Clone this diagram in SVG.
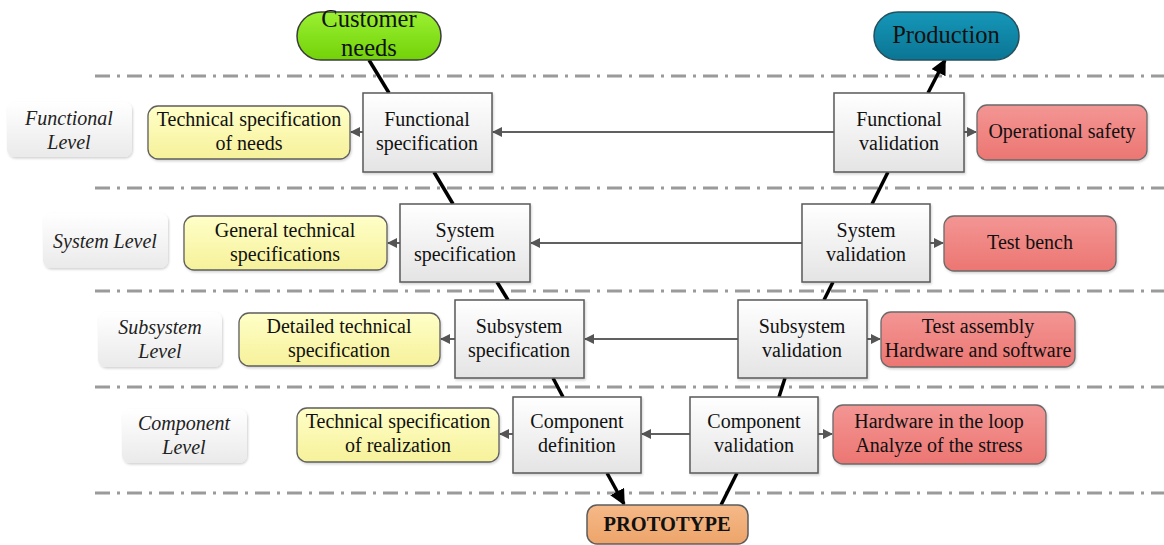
<svg xmlns="http://www.w3.org/2000/svg" width="1164" height="545" viewBox="0 0 1164 545">
  <defs>
    <linearGradient id="gBox" x1="0" y1="0" x2="0" y2="1">
      <stop offset="0" stop-color="#ffffff"/>
      <stop offset="1" stop-color="#e4e4e4"/>
    </linearGradient>
    <linearGradient id="gLevel" x1="0" y1="0" x2="0" y2="1">
      <stop offset="0" stop-color="#ffffff"/>
      <stop offset="1" stop-color="#eaeaea"/>
    </linearGradient>
    <linearGradient id="gYellow" x1="0" y1="0" x2="0" y2="1">
      <stop offset="0" stop-color="#ffffc8"/>
      <stop offset="1" stop-color="#f6f19a"/>
    </linearGradient>
    <linearGradient id="gRed" x1="0" y1="0" x2="0" y2="1">
      <stop offset="0" stop-color="#f39694"/>
      <stop offset="1" stop-color="#ec7672"/>
    </linearGradient>
    <linearGradient id="gGreen" x1="0" y1="0" x2="0" y2="1">
      <stop offset="0" stop-color="#9af032"/>
      <stop offset="1" stop-color="#72d208"/>
    </linearGradient>
    <linearGradient id="gTeal" x1="0" y1="0" x2="0" y2="1">
      <stop offset="0" stop-color="#1597b8"/>
      <stop offset="1" stop-color="#0b7594"/>
    </linearGradient>
    <linearGradient id="gOrange" x1="0" y1="0" x2="0" y2="1">
      <stop offset="0" stop-color="#f5b988"/>
      <stop offset="1" stop-color="#eda46a"/>
    </linearGradient>
    <filter id="soft" x="-10%" y="-10%" width="130%" height="130%">
      <feDropShadow dx="1" dy="1.5" stdDeviation="1.2" flood-color="#000" flood-opacity="0.18"/>
    </filter>
    <marker id="arrGray" viewBox="0 0 10 10" refX="9" refY="5" markerWidth="5" markerHeight="5" orient="auto" markerUnits="strokeWidth">
      <path d="M0,0 L10,5 L0,10 z" fill="#555"/>
    </marker>
    <marker id="arrBlack" viewBox="0 0 10 10" refX="9" refY="5" markerWidth="4.5" markerHeight="4.5" orient="auto" markerUnits="strokeWidth">
      <path d="M0,0 L10,5 L0,10 z" fill="#000"/>
    </marker>
  </defs>
  <style>
    text { font-family: "Liberation Serif", "Times New Roman", serif; fill: #111; text-anchor: middle; }
    .t { font-size: 20px; }
    .big { font-size: 24.5px; }
    .bold { font-size: 20.5px; font-weight: bold; }
    .lvl { font-size: 20px; font-style: italic; fill: #222; }
    .sep { stroke: #9a9a9a; stroke-width: 3; stroke-dasharray: 15 7 3 7; fill: none; }
    .box { fill: url(#gBox); stroke: #5a5a5a; stroke-width: 1.5; filter: url(#soft); }
    .lvlbox { fill: url(#gLevel); stroke: none; filter: url(#soft); }
    .yel { fill: url(#gYellow); stroke: #5e5e5e; stroke-width: 1.3; filter: url(#soft); }
    .red { fill: url(#gRed); stroke: #6a6a6a; stroke-width: 1.3; filter: url(#soft); }
    .h { stroke: #606060; stroke-width: 2; fill: none; marker-end: url(#arrGray); }
    .v { stroke: #000; stroke-width: 3.5; fill: none; }
  </style>

  <rect width="1164" height="545" fill="#ffffff"/>

  <!-- level separators -->
  <g id="separators">
    <line class="sep" x1="95" y1="76" x2="1164" y2="76"/>
    <line class="sep" x1="95" y1="188" x2="1164" y2="188"/>
    <line class="sep" x1="95" y1="291" x2="1164" y2="291"/>
    <line class="sep" x1="95" y1="387" x2="1164" y2="387"/>
    <line class="sep" x1="95" y1="493" x2="1164" y2="493"/>
  </g>

  <!-- connectors: V-cycle descent/ascent and horizontal links -->
  <g id="connectors">
    <line class="v" x1="369" y1="60" x2="389" y2="93"/>
    <line class="v" x1="434" y1="172" x2="453" y2="204"/>
    <line class="v" x1="497" y1="282" x2="508" y2="300"/>
    <line class="v" x1="553" y1="378" x2="563" y2="397"/>
    <line class="v" x1="607" y1="473" x2="624" y2="504" marker-end="url(#arrBlack)"/>

    <line class="v" x1="721" y1="505" x2="737" y2="473"/>
    <line class="v" x1="779" y1="397" x2="785" y2="378"/>
    <line class="v" x1="824" y1="300" x2="833" y2="282"/>
    <line class="v" x1="872" y1="204" x2="888" y2="172"/>
    <line class="v" x1="928" y1="93" x2="945" y2="60" marker-end="url(#arrBlack)"/>

    <line class="h" x1="834" y1="132" x2="493" y2="132"/>
    <line class="h" x1="363" y1="132" x2="351" y2="132"/>
    <line class="h" x1="964" y1="132" x2="976" y2="132"/>

    <line class="h" x1="802" y1="243" x2="531" y2="243"/>
    <line class="h" x1="400" y1="243" x2="388" y2="243"/>
    <line class="h" x1="930" y1="243" x2="943" y2="243"/>

    <line class="h" x1="738" y1="339" x2="585" y2="339"/>
    <line class="h" x1="455" y1="339" x2="441" y2="339"/>
    <line class="h" x1="867" y1="339" x2="880" y2="339"/>

    <line class="h" x1="690" y1="434" x2="642" y2="434"/>
    <line class="h" x1="513" y1="434" x2="500" y2="434"/>
    <line class="h" x1="818" y1="434" x2="832" y2="434"/>
  </g>

  <!-- terminals -->
  <g id="customer-needs">
    <rect x="297" y="12" width="144" height="48" rx="24" fill="url(#gGreen)" stroke="#3c3c3c" stroke-width="1.5"/>
    <text class="big" x="369" y="27">Customer</text>
    <text class="big" x="369" y="56">needs</text>
  </g>
  <g id="production">
    <rect x="874" y="12" width="145" height="48" rx="24" fill="url(#gTeal)" stroke="#25505e" stroke-width="1.5"/>
    <text class="big" x="946" y="43">Production</text>
  </g>
  <g id="prototype">
    <rect x="587" y="505" width="161" height="39" rx="10" fill="url(#gOrange)" stroke="#5c5c5c" stroke-width="1.5"/>
    <text class="bold" x="667" y="531">PROTOTYPE</text>
  </g>

  <!-- level labels -->
  <g id="level-functional">
    <rect class="lvlbox" x="7" y="102" width="125" height="55" rx="8"/>
    <text class="lvl" x="69" y="125">Functional</text>
    <text class="lvl" x="69" y="149">Level</text>
  </g>
  <g id="level-system">
    <rect class="lvlbox" x="43" y="213" width="125" height="55" rx="8"/>
    <text class="lvl" x="105" y="248">System Level</text>
  </g>
  <g id="level-subsystem">
    <rect class="lvlbox" x="98" y="312" width="124" height="55" rx="8"/>
    <text class="lvl" x="160" y="334">Subsystem</text>
    <text class="lvl" x="160" y="358">Level</text>
  </g>
  <g id="level-component">
    <rect class="lvlbox" x="122" y="409" width="125" height="54" rx="8"/>
    <text class="lvl" x="184" y="430">Component</text>
    <text class="lvl" x="184" y="454">Level</text>
  </g>

  <!-- functional level -->
  <g id="tech-spec-needs">
    <rect class="yel" x="148" y="106" width="202" height="53" rx="10"/>
    <text class="t" x="249" y="126">Technical specification</text>
    <text class="t" x="249" y="150">of needs</text>
  </g>
  <g id="functional-specification">
    <rect class="box" x="363" y="93" width="129" height="79"/>
    <text class="t" x="427" y="126">Functional</text>
    <text class="t" x="427" y="150">specification</text>
  </g>
  <g id="functional-validation">
    <rect class="box" x="834" y="93" width="130" height="79"/>
    <text class="t" x="899" y="126">Functional</text>
    <text class="t" x="899" y="150">validation</text>
  </g>
  <g id="operational-safety">
    <rect class="red" x="977" y="105" width="170" height="55" rx="10"/>
    <text class="t" x="1062" y="138">Operational safety</text>
  </g>

  <!-- system level -->
  <g id="general-tech-spec">
    <rect class="yel" x="184" y="216" width="203" height="54" rx="10"/>
    <text class="t" x="285" y="237">General technical</text>
    <text class="t" x="285" y="261">specifications</text>
  </g>
  <g id="system-specification">
    <rect class="box" x="400" y="204" width="130" height="78"/>
    <text class="t" x="465" y="237">System</text>
    <text class="t" x="465" y="261">specification</text>
  </g>
  <g id="system-validation">
    <rect class="box" x="802" y="204" width="128" height="78"/>
    <text class="t" x="866" y="237">System</text>
    <text class="t" x="866" y="261">validation</text>
  </g>
  <g id="test-bench">
    <rect class="red" x="944" y="216" width="172" height="55" rx="10"/>
    <text class="t" x="1030" y="249">Test bench</text>
  </g>

  <!-- subsystem level -->
  <g id="detailed-tech-spec">
    <rect class="yel" x="239" y="313" width="201" height="53" rx="10"/>
    <text class="t" x="339" y="333">Detailed technical</text>
    <text class="t" x="339" y="357">specification</text>
  </g>
  <g id="subsystem-specification">
    <rect class="box" x="455" y="300" width="129" height="78"/>
    <text class="t" x="519" y="333">Subsystem</text>
    <text class="t" x="519" y="357">specification</text>
  </g>
  <g id="subsystem-validation">
    <rect class="box" x="738" y="300" width="129" height="78"/>
    <text class="t" x="802" y="333">Subsystem</text>
    <text class="t" x="802" y="357">validation</text>
  </g>
  <g id="test-assembly">
    <rect class="red" x="881" y="312" width="194" height="55" rx="10"/>
    <text class="t" x="978" y="333">Test assembly</text>
    <text class="t" x="978" y="357">Hardware and software</text>
  </g>

  <!-- component level -->
  <g id="tech-spec-realization">
    <rect class="yel" x="297" y="408" width="202" height="54" rx="10"/>
    <text class="t" x="398" y="428">Technical specification</text>
    <text class="t" x="398" y="452">of realization</text>
  </g>
  <g id="component-definition">
    <rect class="box" x="513" y="397" width="128" height="76"/>
    <text class="t" x="577" y="428">Component</text>
    <text class="t" x="577" y="452">definition</text>
  </g>
  <g id="component-validation">
    <rect class="box" x="690" y="397" width="128" height="76"/>
    <text class="t" x="754" y="428">Component</text>
    <text class="t" x="754" y="452">validation</text>
  </g>
  <g id="hardware-in-loop">
    <rect class="red" x="833" y="405" width="213" height="59" rx="10"/>
    <text class="t" x="939" y="428">Hardware in the loop</text>
    <text class="t" x="939" y="452">Analyze of the stress</text>
  </g>
</svg>
